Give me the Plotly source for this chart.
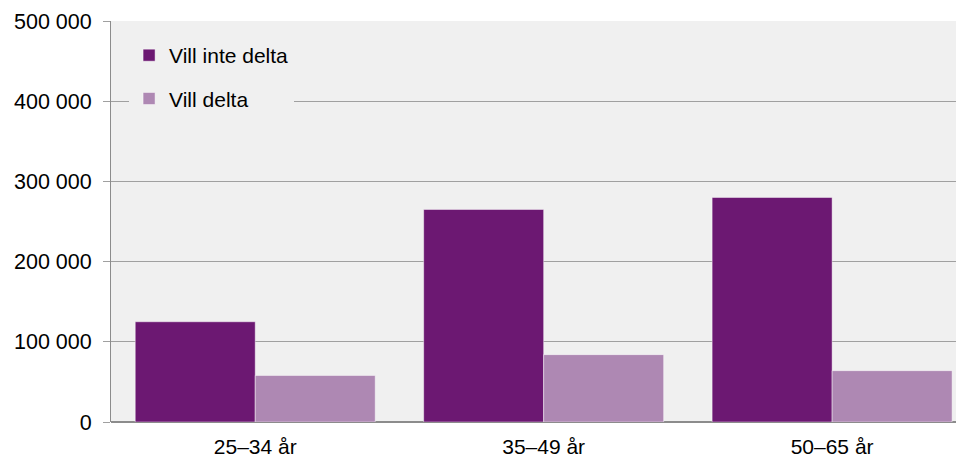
import plotly.graph_objects as go

categories = ["25–34 år", "35–49 år", "50–65 år"]
vill_inte_delta = [125000, 265000, 280000]
vill_delta = [58000, 84000, 64000]
series_names = ["Vill inte delta", "Vill delta"]
y_tickvals = [0, 100000, 200000, 300000, 400000, 500000]
y_ticktext = ["0", "100 000", "200 000", "300 000", "400 000", "500 000"]

DARK = "#6c1872"
LIGHT = "#ae88b3"
FONT = "Liberation Sans, Arial, sans-serif"

fig = go.Figure()
fig.add_trace(go.Bar(
    x=categories, y=vill_inte_delta, name=series_names[0],
    marker=dict(color=DARK, line=dict(color="rgba(255,255,255,0.45)", width=1)),
    legendgroup="a",
))
fig.add_trace(go.Bar(
    x=categories, y=vill_delta, name=series_names[1],
    marker=dict(color=LIGHT, line=dict(color="rgba(255,255,255,0.45)", width=1)),
    legendgroup="b",
))

fig.update_layout(
    width=964, height=451,
    margin=dict(l=103, r=0, t=13, b=37, pad=0),
    paper_bgcolor="white",
    plot_bgcolor="#f0f0f0",
    barmode="group",
    bargap=0.168,
    bargroupgap=0,
    font=dict(family=FONT, size=20, color="#000000"),
    showlegend=True,
    legend=dict(
        x=0.021, y=0.965, xanchor="left", yanchor="top",
        bgcolor="#f0f0f0",
        font=dict(size=21, family=FONT),
        tracegroupgap=13,
        traceorder="grouped",
    ),
    xaxis=dict(
        range=[-0.5, 2.485],
        showgrid=False,
        showline=False,
        ticks="",
        tickfont=dict(size=21),
        ticklabelstandoff=10,
        automargin=False,
        fixedrange=True,
    ),
    yaxis=dict(
        range=[0, 500000],
        tickvals=y_tickvals,
        ticktext=y_ticktext,
        showgrid=True,
        gridcolor="#a0a0a0",
        gridwidth=1,
        zeroline=True,
        zerolinecolor="#8c8c8c",
        zerolinewidth=2,
        showline=True,
        linecolor="#8c8c8c",
        linewidth=1,
        ticks="outside",
        ticklen=7,
        tickcolor="#a0a0a0",
        tickfont=dict(size=21.5),
        ticklabelstandoff=7,
        automargin=False,
        fixedrange=True,
    ),
)

fig.write_html("out.html", config={"displayModeBar": False})
